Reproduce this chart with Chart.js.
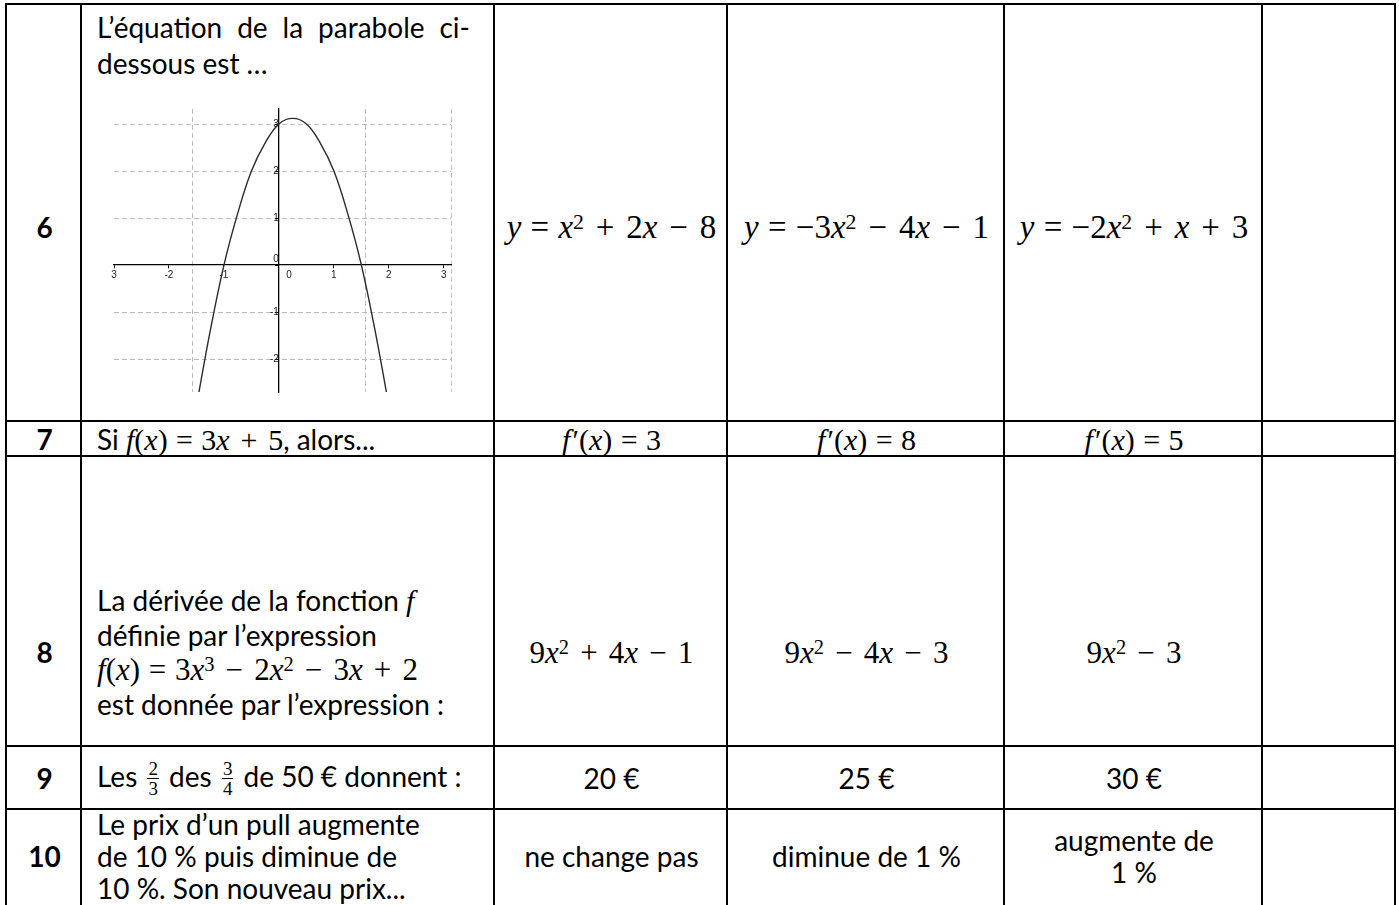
<!DOCTYPE html>
<html>
<head>
<meta charset="utf-8">
<script src="https://cdn.jsdelivr.net/npm/chart.js@4.4.1/dist/chart.umd.min.js"></script>
<style>
  html, body { margin: 0; padding: 0; background: #fff; }
  body { position: relative; width: 1399px; height: 905px; overflow: hidden;
         font-family: Lato, 'Open Sans', sans-serif; font-size: 28px; color: #000; }
  .cell { position: absolute; box-sizing: border-box; border-left: 2px solid #000; border-top: 2px solid #000;
          display: flex; align-items: center; justify-content: center; text-align: center; line-height: 33px; }
  .cell.last { border-right: 2px solid #000; }
  .left { justify-content: flex-start; text-align: left; padding-left: 15px; }
  .top { align-items: flex-start; padding-top: 4px; line-height: 36px; }
  .r0 { padding-top: 28px; }
  .r2 { padding-top: 100px; line-height: 34px; }
  .r4 { line-height: 32px; padding-bottom: 6px; }
  .num { font-weight: bold; }
  .m { font-family: 'Liberation Serif', serif; font-size: 30px; white-space: nowrap; }
  .m.md { font-size: 31px; }
  .m.big { font-size: 33px; }
  .m i { font-style: italic; }
  .op { margin: 0 0.36em; }
  .eq { margin: 0 0.28em; }
  .pr { margin-left: 2px; }
  sup { font-size: 0.66em; line-height: 0; vertical-align: 0.42em; }
  .fr { display: inline-flex; flex-direction: column; vertical-align: 12px; font-family: 'Liberation Serif', serif;
        font-size: 19px; line-height: 19px; text-align: center; margin: 0 3px; }
  .fr span:first-child { border-bottom: 1.5px solid #000; padding: 0 1px; }
  .just { display: block; width: 373px; text-align: justify; text-align-last: justify; }
  #graph { position: absolute; left: 100px; top: 100px; }
</style>
</head>
<body>
<canvas id="graph" width="370" height="305"></canvas>
<script>
// parabole (x, y)
var curveX = [-1.47, -1.25, -1, -0.75, -0.5, -0.25, 0, 0.25, 0.5, 0.75, 1, 1.25, 1.5, 1.75, 1.97];
var curveY = [-2.8, -1.4, 0, 1.1, 2, 2.6, 3, 3.12, 3, 2.6, 2, 1.1, 0, -1.4, -2.8];

var xTicks = [-3, -2, -1, 0, 1, 2, 3];
var xTickLabels = ['3', '-2', '-1', '\u2002\u2002\u2002\u20020', '1', '2', '3'];
var yTicks = [-2, -1, 0, 1, 2, 3];
var yTickLabels = ['-2', '-1', ['0', ''], '1', '2', '3'];
var xGridLines = [-1.57, 1.57, 3.14];

var xMin = -3, xMax = 3.13, yMin = -2.7, yMax = 3.32;

// tableau
var colEdges = [5, 80, 493, 726, 1003, 1261, 1396];
var rowEdges = [3, 420, 455, 745, 808, 906];

var rowNumbers = ['6', '7', '8', '9', '10'];
var questions = [
  '<span class="just">L’équation de la parabole ci-</span>dessous est …',
  'Si <span class="m"><i>f</i>(<i>x</i>)<span class="eq">=</span>3<i>x</i><span class="op">+</span>5</span>, alors...',
  'La dérivée de la fonction <span class="m"><i>f</i></span><br>définie par l’expression<br><span class="m md"><i>f</i>(<i>x</i>)<span class="eq">=</span>3<i>x</i><sup>3</sup><span class="op">−</span>2<i>x</i><sup>2</sup><span class="op">−</span>3<i>x</i><span class="op">+</span>2</span><br>est donnée par l’expression :',
  'Les <span class="fr"><span>2</span><span>3</span></span> des <span class="fr"><span>3</span><span>4</span></span> de 50 € donnent :',
  'Le prix d’un pull augmente<br>de 10 % puis diminue de<br>10 %. Son nouveau prix...'
];
var answersA = [
  '<span class="m big"><i>y</i><span class="eq">=</span><i>x</i><sup>2</sup><span class="op">+</span>2<i>x</i><span class="op">−</span>8</span>',
  '<span class="m"><i>f</i><span class="pr">′</span>(<i>x</i>)<span class="eq">=</span>3</span>',
  '<span class="m md">9<i>x</i><sup>2</sup><span class="op">+</span>4<i>x</i><span class="op">−</span>1</span>',
  '20 €',
  'ne change pas'
];
var answersB = [
  '<span class="m big"><i>y</i><span class="eq">=</span>−3<i>x</i><sup>2</sup><span class="op">−</span>4<i>x</i><span class="op">−</span>1</span>',
  '<span class="m"><i>f</i><span class="pr">′</span>(<i>x</i>)<span class="eq">=</span>8</span>',
  '<span class="m md">9<i>x</i><sup>2</sup><span class="op">−</span>4<i>x</i><span class="op">−</span>3</span>',
  '25 €',
  'diminue de 1 %'
];
var answersC = [
  '<span class="m big"><i>y</i><span class="eq">=</span>−2<i>x</i><sup>2</sup><span class="op">+</span><i>x</i><span class="op">+</span>3</span>',
  '<span class="m"><i>f</i><span class="pr">′</span>(<i>x</i>)<span class="eq">=</span>5</span>',
  '<span class="m md">9<i>x</i><sup>2</sup><span class="op">−</span>3</span>',
  '30 €',
  'augmente de<br>1 %'
];

function addCell(c, r, html, cls) {
  var last = c === colEdges.length - 2;
  var d = document.createElement('div');
  var rowCls = (r === 0 && c !== 1) ? ' r0' : (r === 2 ? ' r2' : (r === 4 ? ' r4' : ''));
  d.className = 'cell ' + (cls || '') + (last ? ' last' : '') + rowCls;
  d.style.left = colEdges[c] + 'px';
  d.style.top = rowEdges[r] + 'px';
  d.style.width = (colEdges[c + 1] - colEdges[c] + (last ? 0 : 2)) + 'px';
  d.style.height = (rowEdges[r + 1] - rowEdges[r] + 2) + 'px';
  d.innerHTML = '<div>' + html + '</div>';
  document.body.insertBefore(d, document.getElementById('graph'));
}

for (var r = 0; r < rowNumbers.length; r++) {
  addCell(0, r, rowNumbers[r], 'num');
  addCell(1, r, questions[r], r === 0 ? 'left top' : 'left');
  addCell(2, r, answersA[r]);
  addCell(3, r, answersB[r]);
  addCell(4, r, answersC[r]);
  addCell(5, r, '');
}

function noPad(s) { s.paddingLeft = 0; s.paddingRight = 0; s.paddingTop = 0; s.paddingBottom = 0; }

var tickFont = { family: 'Liberation Sans', size: 10 };

new Chart(document.getElementById('graph'), {
  type: 'scatter',
  data: {
    datasets: [{
      data: curveX.map(function (x, i) { return { x: x, y: curveY[i] }; }),
      showLine: true,
      borderColor: '#2b2b2b',
      borderWidth: 1.4,
      pointRadius: 0,
      tension: 0.4,
      fill: false
    }]
  },
  options: {
    responsive: false,
    animation: false,
    events: [],
    layout: { padding: { left: 14, right: 19, top: 9, bottom: 13 } },
    plugins: { legend: { display: false }, tooltip: { enabled: false } },
    scales: {
      xg: {
        type: 'linear', axis: 'x', min: xMin, max: xMax, position: { y: 0 },
        afterBuildTicks: function (s) { s.ticks = xGridLines.map(function (v) { return { value: v }; }); },
        afterFit: noPad,
        ticks: { display: false },
        grid: { color: '#bdbdbd', lineWidth: 1, drawTicks: false },
        border: { display: false, dash: [5, 3] }
      },
      x: {
        type: 'linear', min: xMin, max: xMax, position: { y: 0 },
        afterBuildTicks: function (s) { s.ticks = xTicks.map(function (v) { return { value: v }; }); },
        afterFit: noPad,
        ticks: {
          autoSkip: false, maxRotation: 0, padding: 1, color: '#222', font: tickFont,
          callback: function (v, i) { return xTickLabels[i]; }
        },
        grid: { drawOnChartArea: false, tickLength: 3, tickColor: '#000' },
        border: { display: true, color: '#000', width: 1.3 }
      },
      y: {
        type: 'linear', min: yMin, max: yMax, position: { x: 0 },
        afterBuildTicks: function (s) { s.ticks = yTicks.map(function (v) { return { value: v }; }); },
        afterFit: noPad,
        ticks: {
          autoSkip: false, padding: 2, color: '#222', font: tickFont,
          callback: function (v, i) { return yTickLabels[i]; }
        },
        grid: {
          color: function (ctx) { return ctx.tick && ctx.tick.value === 0 ? 'rgba(0,0,0,0)' : '#bdbdbd'; },
          tickColor: '#000', tickLength: 3
        },
        border: { display: true, color: '#000', width: 1.3, dash: [5, 3] }
      }
    }
  }
});
</script>
</body>
</html>
